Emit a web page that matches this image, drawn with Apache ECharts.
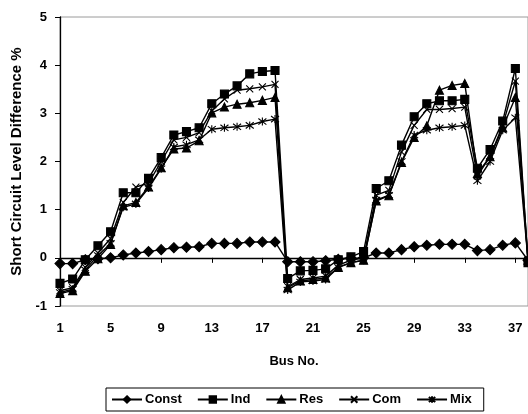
<!DOCTYPE html>
<html>
<head>
<meta charset="utf-8">
<script src="https://cdn.jsdelivr.net/npm/echarts@6/dist/echarts.min.js"></script>
<style>html,body{margin:0;padding:0;background:#fff}#c{width:528px;height:414px}</style>
</head>
<body>
<div id="c"></div>
<script>
var buses = [];
for (var i = 1; i <= 38; i++) buses.push(String(i));

var constVals = [-0.12,-0.12,-0.04,-0.02,0.0,0.06,0.1,0.13,0.17,0.21,0.22,0.23,0.3,0.3,0.3,0.33,0.33,0.33,-0.08,-0.08,-0.08,-0.06,-0.03,-0.01,0.0,0.1,0.1,0.17,0.23,0.26,0.28,0.28,0.28,0.15,0.17,0.26,0.31,-0.05];
var indVals = [-0.53,-0.44,-0.04,0.25,0.54,1.35,1.35,1.65,2.08,2.55,2.62,2.7,3.2,3.4,3.57,3.82,3.87,3.89,-0.43,-0.27,-0.26,-0.23,-0.04,0.02,0.13,1.44,1.6,2.34,2.93,3.2,3.26,3.26,3.29,1.86,2.25,2.84,3.93,-0.1];
var resVals = [-0.74,-0.68,-0.28,-0.02,0.28,1.08,1.15,1.47,1.87,2.26,2.28,2.43,3.01,3.13,3.19,3.22,3.27,3.33,-0.62,-0.48,-0.45,-0.42,-0.2,-0.1,-0.05,1.18,1.29,1.98,2.5,2.74,3.48,3.58,3.62,1.75,2.1,2.7,3.33,-0.05];
var comVals = [-0.68,-0.62,-0.2,0.1,0.4,1.15,1.47,1.55,2.0,2.45,2.5,2.6,3.05,3.3,3.48,3.51,3.55,3.6,-0.6,-0.45,-0.42,-0.38,-0.15,-0.05,0.0,1.3,1.4,2.2,2.75,3.08,3.08,3.1,3.13,1.7,2.1,2.75,3.67,-0.05];
var mixVals = [-0.72,-0.65,-0.25,0.05,0.3,1.05,1.12,1.45,1.85,2.3,2.35,2.45,2.67,2.7,2.72,2.75,2.83,2.88,-0.67,-0.5,-0.48,-0.45,-0.2,-0.1,-0.05,1.2,1.3,2.0,2.55,2.65,2.7,2.72,2.75,1.6,2.0,2.65,2.91,-0.05];

var seriesNames = ['Const','Ind','Res','Com','Mix'];
var yTicks = {min: -1, max: 5, step: 1};

var FONT = '"Liberation Sans", Arial, sans-serif';
var symX = 'path://M0,0L10,10M10,0L0,10';
var symStar = 'path://M0,0L10,10M10,0L0,10M5,-1.5L5,11.5';

function mk(name, data, symbol, size) {
  return {
    name: name, type: 'line', data: data,
    symbol: symbol, symbolSize: size, showAllSymbol: true,
    lineStyle: {color: '#000', width: 1.4},
    itemStyle: {color: '#000', borderColor: '#000', borderWidth: 1.1},
    emphasis: {disabled: true},
    animation: false
  };
}

var chart = echarts.init(document.getElementById('c'), null, {renderer: 'canvas'});
chart.setOption({
  backgroundColor: '#fff',
  animation: false,
  grid: {left: 60, top: 17, bottom: 108, right: -4, show: true, borderColor: '#9a9a9a', borderWidth: 1},
  legend: {
    data: seriesNames,
    top: 388, left: 106,
    itemWidth: 30, itemHeight: 8, itemGap: 15,
    padding: [5, 12, 5, 5],
    borderColor: '#000', borderWidth: 1,
    textStyle: {fontFamily: FONT, fontWeight: 'bold', fontSize: 13, color: '#000', padding: [0,0,0,-2]}
  },
  xAxis: {
    type: 'category', data: buses, boundaryGap: false,
    name: 'Bus No.', nameLocation: 'middle', nameGap: 49,
    nameTextStyle: {fontFamily: FONT, fontWeight: 'bold', fontSize: 13, color: '#000'},
    axisLine: {lineStyle: {color: '#000', width: 1.3}},
    axisTick: {interval: 3, length: 5, lineStyle: {color: '#000'}},
    axisLabel: {interval: 3, margin: 16, fontFamily: FONT, fontWeight: 'bold', fontSize: 13, color: '#000'},
    splitLine: {show: false}
  },
  yAxis: {
    type: 'value', min: yTicks.min, max: yTicks.max, interval: yTicks.step,
    name: 'Short Circuit Level Difference %', nameLocation: 'middle', nameGap: 34,
    nameTextStyle: {fontFamily: FONT, fontWeight: 'bold', fontSize: 15, color: '#000'},
    axisLine: {show: true, lineStyle: {color: '#000', width: 1.3}},
    axisTick: {show: true, length: 5, lineStyle: {color: '#000'}},
    axisLabel: {margin: 13, fontFamily: FONT, fontWeight: 'bold', fontSize: 13, color: '#000'},
    splitLine: {show: false}
  },
  series: [
    mk('Const', constVals, 'diamond', 10),
    mk('Ind', indVals, 'rect', 8),
    mk('Res', resVals, 'triangle', 8),
    mk('Com', comVals, symX, 7),
    mk('Mix', mixVals, symStar, 8)
  ]
});
</script>
</body>
</html>
